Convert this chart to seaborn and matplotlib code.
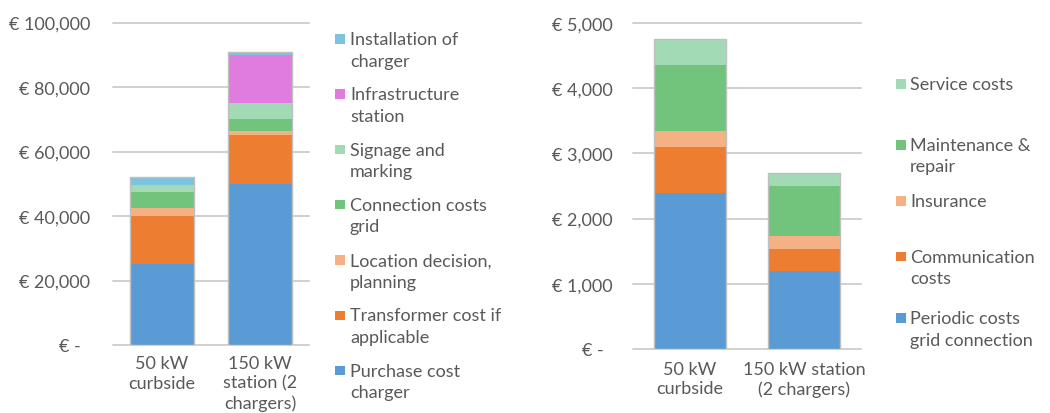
import matplotlib
matplotlib.use("Agg")
import matplotlib.pyplot as plt
from matplotlib.patches import Rectangle
from matplotlib.ticker import FixedLocator, FuncFormatter
import seaborn as sns
import pandas as pd
import numpy as np

# ---------------- data ----------------
configs_left = ["50 kW\ncurbside", "150 kW\nstation (2\nchargers)"]
purchase_cost_charger = [25000, 50000]
transformer_cost = [15000, 15000]
location_decision = [2500, 1500]
connection_costs_grid = [5000, 3500]
signage_marking = [2000, 5000]
infrastructure_station = [0, 15000]
installation_charger = [2500, 1000]

configs_right = ["50 kW\ncurbside", "150 kW station\n(2 chargers)"]
periodic_grid = [2400, 1200]
communication = [700, 340]
insurance = [250, 200]
maintenance = [1000, 760]
service = [400, 200]

left_labels = ["Purchase cost\ncharger", "Transformer cost if\napplicable",
               "Location decision,\nplanning", "Connection costs\ngrid",
               "Signage and\nmarking", "Infrastructure\nstation",
               "Installation of\ncharger"]
right_labels = ["Periodic costs\ngrid connection", "Communication\ncosts",
                "Insurance", "Maintenance &\nrepair", "Service costs"]

left_ticks = [0, 20000, 40000, 60000, 80000, 100000]
right_ticks = [0, 1000, 2000, 3000, 4000, 5000]

# ---------------- style ----------------
sns.set_theme(style="white")
plt.rcParams["font.family"] = ["Lato", "DejaVu Sans"]
FS = 13
TXT = "#595959"
GRID = "#D0D0D0"
EDGE = "#BFBFBF"
c_blue = "#5B9BD5"
c_orange = "#ED7D31"
c_lorange = "#F4B183"
c_green = "#72C47C"
c_lgreen = "#A2DAB6"
c_magenta = "#E07BDF"
c_cyan = "#7DC3DE"

left_colors = [c_blue, c_orange, c_lorange, c_green, c_lgreen, c_magenta, c_cyan]
right_colors = [c_blue, c_orange, c_lorange, c_green, c_lgreen]

W, H = 1050, 414
fig = plt.figure(figsize=(W / 100, H / 100), dpi=100)


def px_axes(x0, x1, ytop, ybot):
    return fig.add_axes([x0 / W, (H - ybot) / H, (x1 - x0) / W, (ybot - ytop) / H])


def stacked(ax, configs, layers, colors, width):
    cum = np.cumsum(np.array(layers, dtype=float), axis=0)
    for i in range(len(layers) - 1, -1, -1):
        d = pd.DataFrame({"config": configs, "value": cum[i]})
        sns.barplot(data=d, x="config", y="value", color=colors[i], width=width,
                    saturation=1, errorbar=None, linewidth=0, ax=ax, zorder=3)
    d = pd.DataFrame({"config": configs, "value": cum[-1]})
    sns.barplot(data=d, x="config", y="value", color=EDGE, width=width,
                fill=False, errorbar=None, linewidth=1.0, ax=ax, zorder=4)


def style_axes(ax, ticks, fmt, ypad_px, xpad):
    ax.set_ylim(ticks[0], ticks[-1])
    ax.set_xlim(-0.5, 1.5)
    ax.yaxis.set_major_locator(FixedLocator(ticks))
    ax.yaxis.set_major_formatter(FuncFormatter(fmt))
    ax.grid(axis="y", color=GRID, linewidth=1.4, zorder=0)
    ax.grid(axis="x", visible=False)
    for s in ax.spines.values():
        s.set_visible(False)
    ax.tick_params(axis="both", length=0, labelsize=FS, labelcolor=TXT)
    ax.tick_params(axis="y", pad=ypad_px * 0.72)
    ax.tick_params(axis="x", pad=xpad)
    ax.set_xlabel("")
    ax.set_ylabel("")
    for t in ax.get_xticklabels():
        t.set_linespacing(1.25)
    for gl in ax.get_ygridlines():
        gl.set_clip_on(False)


def euro(v, pos):
    if v == 0:
        return "€ -  "
    return "€ {:,.0f}".format(v)


axL = px_axes(113, 309, 23.5, 346)
stacked(axL, configs_left,
        [purchase_cost_charger, transformer_cost, location_decision,
         connection_costs_grid, signage_marking, infrastructure_station,
         installation_charger], left_colors, 0.65)
style_axes(axL, left_ticks, euro, 23, 7.5)

axR = px_axes(633, 861, 24, 350)
stacked(axR, configs_right,
        [periodic_grid, communication, insurance, maintenance, service],
        right_colors, 0.64)
style_axes(axR, right_ticks, euro, 20, 8.5)


# ---------------- legends (manual, Excel-like) ----------------
LINE = 21.5


def legend(entries, colors, sq_x, txt_x, baselines):
    for lab, col, b in zip(entries, colors, baselines):
        fig.add_artist(Rectangle((sq_x / W, (H - (b - 0.5)) / H), 9.5 / W, 9.5 / H,
                                 transform=fig.transFigure, facecolor=col,
                                 edgecolor="none"))
        for k, line in enumerate(lab.split("\n")):
            fig.text(txt_x / W, (H - (b + k * LINE)) / H, line, ha="left",
                     va="baseline", fontsize=FS, color=TXT)


left_base = [45 + 55.3 * i for i in range(7)]
legend(left_labels[::-1], left_colors[::-1], 335, 350, left_base)

right_base = [90, 151, 207.3, 262.7, 324.3]
legend(right_labels[::-1], right_colors[::-1], 896, 910, right_base)

fig.savefig("out.png", dpi=100)
